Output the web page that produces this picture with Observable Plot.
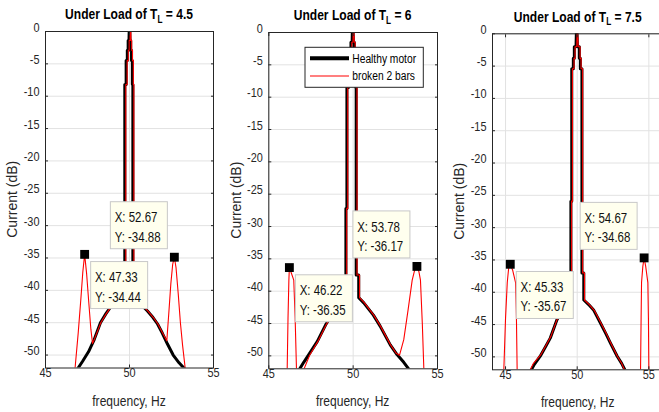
<!DOCTYPE html>
<html><head><meta charset="utf-8">
<script src="https://cdn.jsdelivr.net/npm/d3@7"></script>
<script src="https://cdn.jsdelivr.net/npm/@observablehq/plot@0.6"></script>
<style>
html,body{margin:0;padding:0;background:#fff;}
#fig{position:relative;width:659px;height:412px;overflow:hidden;background:#fff;}
#fig svg{position:absolute;top:0;}
</style></head><body><div id="fig"></div>
<script>
// ---------------- data ----------------
const loads = ["4.5", "6", "7.5"];
const xTicks = [45, 50, 55];
const yTicks = [0, -5, -10, -15, -20, -25, -30, -35, -40, -45, -50];
const legendLabels = ["Healthy motor", "broken 2 bars"];

// T_L = 4.5  [frequency Hz, current dB]
const healthy45 = [[46.84,-52.4],[47.2,-51.0],[47.56,-49.5],[47.9,-47.6],[48.27,-45.0],[48.6,-43.6],[48.87,-42.6],[49.2,-41.9],[49.5,-41.5],[49.72,-41.3],[49.72,-8.2],[49.8,-8.2],[49.8,-4.5],[49.87,-4.5],[49.87,-2.9],[49.92,-2.9],[49.92,-1.4],[49.97,-1.4],[49.98,0],[50.02,0],[50.03,-1.4],[50.07,-1.4],[50.07,-2.9],[50.12,-2.9],[50.12,-4.5],[50.17,-4.5],[50.17,-8.2],[50.2,-8.2],[50.2,-41.2],[50.5,-41.8],[50.8,-42.5],[51.07,-43.2],[51.4,-44.2],[51.67,-45.2],[51.95,-46.6],[52.26,-48.3],[52.6,-50.0],[52.95,-51.2],[53.38,-52.4]];
const broken45 = [[46.74,-52.6],[46.95,-46.5],[47.1,-41.5],[47.22,-37.2],[47.33,-34.44],[47.45,-37.5],[47.58,-42.0],[47.7,-46.0],[47.8,-48.2],[47.92,-47.5],[48.29,-45.0],[48.62,-43.6],[48.89,-42.6],[49.22,-41.9],[49.52,-41.5],[49.78,-41.3],[49.78,-8.2],[49.86,-8.2],[49.86,-4.5],[49.93,-4.5],[49.93,-2.9],[49.98,-2.9],[49.98,-1.4],[50.03,-1.4],[50.04,0],[50.08,0],[50.09,-1.4],[50.13,-1.4],[50.13,-2.9],[50.18,-2.9],[50.18,-4.5],[50.23,-4.5],[50.23,-8.2],[50.26,-8.2],[50.26,-41.2],[50.54,-41.8],[50.83,-42.5],[51.1,-43.2],[51.42,-44.2],[51.69,-45.2],[51.97,-46.6],[52.22,-47.8],[52.34,-43.5],[52.46,-39.0],[52.57,-36.0],[52.67,-34.88],[52.77,-36.5],[52.9,-40.5],[53.03,-45.0],[53.16,-48.5],[53.34,-52.6]];
const tipX45 = [47.33, 52.67];
const tipY45 = [-34.44, -34.88];

// T_L = 6
const healthy6 = [[46.74,-52.4],[47.07,-51.0],[47.37,-49.8],[47.87,-47.8],[48.37,-45.2],[48.8,-43.4],[49.15,-42.2],[49.4,-41.6],[49.57,-41.3],[49.57,-27.2],[49.63,-27.2],[49.63,-8.5],[49.72,-8.5],[49.72,-4.5],[49.8,-4.5],[49.8,-3.0],[49.87,-3.0],[49.87,-1.5],[49.94,-1.5],[49.95,0],[50.0,0],[50.02,-1.5],[50.07,-1.5],[50.07,-3.0],[50.11,-3.0],[50.11,-4.5],[50.15,-4.5],[50.15,-8.5],[50.18,-8.5],[50.18,-37.5],[50.33,-37.5],[50.33,-41.0],[50.63,-41.8],[51.2,-43.7],[51.6,-45.4],[52.2,-48.3],[52.6,-49.8],[53.0,-51.0],[53.4,-52.4]];
const broken6 = [[46.06,-54],[46.09,-52],[46.14,-44],[46.19,-38.3],[46.22,-36.35],[46.35,-37.3],[46.48,-38.3],[46.56,-44],[46.64,-52],[46.68,-54],[46.9,-56],[47.06,-52.2],[47.42,-49.9],[47.9,-47.8],[48.4,-45.2],[48.82,-43.4],[49.17,-42.2],[49.42,-41.6],[49.62,-41.3],[49.62,-27.2],[49.68,-27.2],[49.68,-8.5],[49.77,-8.5],[49.77,-4.5],[49.85,-4.5],[49.85,-3.0],[49.92,-3.0],[49.92,-1.5],[49.99,-1.5],[50.0,0],[50.05,0],[50.07,-1.5],[50.12,-1.5],[50.12,-3.0],[50.16,-3.0],[50.16,-4.5],[50.2,-4.5],[50.2,-8.5],[50.23,-8.5],[50.23,-37.5],[50.38,-37.5],[50.38,-41.0],[50.67,-41.8],[51.22,-43.7],[51.62,-45.4],[52.22,-48.3],[52.55,-49.6],[52.75,-49.9],[53.0,-47.5],[53.25,-43.0],[53.5,-38.3],[53.65,-36.7],[53.78,-36.17],[53.9,-37.0],[53.99,-38.3],[54.1,-45.0],[54.19,-52.0],[54.22,-54]];
const tipX6 = [46.22, 53.78];
const tipY6 = [-36.35, -36.17];

// T_L = 7.5
const healthy75 = [[46.7,-52.4],[47.0,-51.2],[47.42,-49.9],[47.8,-48.4],[48.12,-47.1],[48.58,-44.3],[48.95,-42.8],[49.25,-41.9],[49.5,-41.4],[49.56,-41.3],[49.56,-25.9],[49.62,-25.9],[49.62,-5.4],[49.73,-5.4],[49.73,-3.8],[49.8,-3.8],[49.8,-2.0],[49.92,-2.0],[49.94,0],[49.99,0],[50.02,-2.0],[50.15,-2.0],[50.15,-3.8],[50.22,-3.8],[50.22,-5.4],[50.33,-5.4],[50.33,-37.0],[50.46,-37.0],[50.46,-41.2],[50.8,-41.9],[51.16,-42.8],[51.63,-44.8],[52.0,-46.4],[52.33,-47.9],[52.79,-49.9],[53.1,-51.0],[53.42,-52.4]];
const broken75 = [[44.85,-54],[44.88,-52],[45.0,-44],[45.12,-38.5],[45.22,-36.2],[45.33,-35.67],[45.5,-36.6],[45.7,-38.5],[45.76,-44],[45.81,-52],[45.84,-54],[46.25,-57],[46.64,-52.4],[46.95,-51.0],[47.45,-49.7],[47.83,-48.2],[48.15,-46.9],[48.6,-44.2],[48.97,-42.8],[49.27,-41.9],[49.52,-41.4],[49.61,-41.3],[49.61,-25.9],[49.67,-25.9],[49.67,-5.4],[49.78,-5.4],[49.78,-3.8],[49.85,-3.8],[49.85,-2.0],[49.97,-2.0],[49.99,0],[50.04,0],[50.07,-2.0],[50.2,-2.0],[50.2,-3.8],[50.27,-3.8],[50.27,-5.4],[50.38,-5.4],[50.38,-37.0],[50.51,-37.0],[50.51,-41.2],[50.84,-41.9],[51.19,-42.8],[51.66,-44.8],[52.03,-46.4],[52.35,-47.9],[52.8,-49.9],[53.1,-51.0],[53.38,-52.4],[53.9,-57],[54.4,-54],[54.42,-52],[54.46,-44],[54.49,-38.5],[54.58,-36.0],[54.67,-34.68],[54.78,-36.0],[54.93,-38.5],[54.97,-44],[55.0,-52],[55.02,-54]];
const tipX75 = [45.33, 54.67];
const tipY75 = [-35.67, -34.68];

// ---------------- styling ----------------
function fontAvailable(name) {
  const ctx = document.createElement("canvas").getContext("2d");
  const s = "Healthy motor 0123456789 Wwmil";
  for (const base of ["monospace", "serif"]) {
    ctx.font = `40px ${base}`; const a = ctx.measureText(s).width;
    ctx.font = `40px "${name}", ${base}`; const b = ctx.measureText(s).width;
    if (Math.abs(a - b) > 0.5) return true;
  }
  return false;
}
const NARROW = fontAvailable("Liberation Sans Narrow");
const FONT = NARROW ? '"Liberation Sans Narrow", "Liberation Sans", Arial, sans-serif' : '"Liberation Sans", Arial, sans-serif';
const REG = '"Liberation Sans", Arial, sans-serif';
const SQ = NARROW ? 1 : 0.82;
const FS = {tick: 13.3, title: 14.7, sub: 10, label: 14.7, ylab: 14, tip: 14, legend: 12.5};
const AX = "#262626", GRID = "#e2e2e2";

function squeeze(svg) {
  if (SQ === 1) return;
  svg.querySelectorAll("text").forEach(t => {
    if (t.hasAttribute("data-keep")) return;
    let tr = t.getAttribute("transform") || "";
    const x = t.getAttribute("x"), y = t.getAttribute("y");
    if (x !== null || y !== null) {
      tr += ` translate(${+x || 0},${+y || 0})`;
      t.removeAttribute("x"); t.removeAttribute("y");
    }
    t.setAttribute("transform", tr + ` scale(${SQ},1)`);
  });
}

function titleMark(load) {
  return (index, scales, values, dims) => {
    const cx = dims.marginLeft + (dims.width - dims.marginLeft - dims.marginRight) / 2;
    const t = d3.create("svg:text")
      .attr("transform", `translate(${cx},${dims.marginTop - 11.7})`)
      .attr("text-anchor", "middle").attr("font-weight", "bold")
      .attr("font-size", FS.title).attr("fill", "#000");
    t.append("tspan").text("Under Load of T");
    t.append("tspan").attr("font-size", FS.sub).attr("dy", 3.8).text("L");
    t.append("tspan").attr("dy", -3.8).text(" = " + load);
    return t.node();
  };
}
function axisLabels() {
  return (index, scales, values, dims) => {
    const g = d3.create("svg:g").attr("fill", AX);
    const cx = dims.marginLeft + (dims.width - dims.marginLeft - dims.marginRight) / 2;
    const cy = dims.marginTop + (dims.height - dims.marginTop - dims.marginBottom) / 2;
    g.append("text").attr("transform", `translate(${cx},${dims.height - dims.marginBottom + 33})`)
      .attr("text-anchor", "middle").attr("dy", "0.35em").attr("font-size", FS.label).text("frequency, Hz");
    g.append("text").attr("data-keep", "1").attr("font-family", REG)
      .attr("transform", `translate(${dims.marginLeft - 32.5},${cy}) rotate(-90)`)
      .attr("text-anchor", "middle").attr("dy", "0.35em").attr("font-size", FS.ylab).text("Current (dB)");
    return g.node();
  };
}
function tipBoxes(tips) {
  return (index, scales, values, dims) => {
    const g = d3.create("svg:g").attr("text-anchor", "start");
    const W = 57, H = 47;
    tips.forEach(t => {
      const px = scales.x(t.x), py = scales.y(t.y);
      const bx = t.below ? px + 6.5 : px - 6.5 - W;
      const by = t.below ? py + 7.7 : py - 8 - H;
      g.append("rect").attr("x", bx).attr("y", by).attr("width", W).attr("height", H)
        .attr("fill", "#ffffee").attr("stroke", "#c8c8c8");
      g.append("text").attr("transform", `translate(${bx + 4.3},${by + 20.6})`).attr("text-anchor", "start")
        .attr("font-size", FS.tip).attr("fill", "#111").text(`X: ${t.x.toFixed(2)}`);
      g.append("text").attr("transform", `translate(${bx + 4.3},${by + 40})`).attr("text-anchor", "start")
        .attr("font-size", FS.tip).attr("fill", "#111").text(`Y: ${t.y.toFixed(2)}`);
    });
    return g.node();
  };
}
function legendMark(labels) {
  return (index, scales, values, dims) => {
    const right = dims.width - dims.marginRight;
    const w = 118.3, h = 40;
    const x0 = right - 13.7 - w, y0 = dims.marginTop + 15.3;
    const g = d3.create("svg:g").attr("text-anchor", "start");
    g.append("rect").attr("x", x0).attr("y", y0).attr("width", w).attr("height", h)
      .attr("fill", "#fff").attr("stroke", AX);
    const sw = [{c: "#000", w: 4}, {c: "#ff0000", w: 1.2}];
    labels.forEach((lab, i) => {
      const yy = y0 + 11 + i * 17.7;
      g.append("line").attr("x1", x0 + 5).attr("x2", x0 + 44).attr("y1", yy).attr("y2", yy)
        .attr("stroke", sw[i].c).attr("stroke-width", sw[i].w);
      g.append("text").attr("transform", `translate(${x0 + 47.3},${yy})`).attr("dy", "0.35em").attr("text-anchor", "start")
        .attr("font-size", FS.legend).attr("fill", "#000").text(lab);
    });
    return g.node();
  };
}

function makePanel(cfg) {
  const {left, width, mt, mb, ml, mr, xdom, healthy, broken, tipX, tipY, load, legend} = cfg;
  const tips = tipX.map((x, i) => ({x, y: tipY[i], below: i === 0}));
  const marks = [
    Plot.gridX(xTicks, {stroke: GRID, strokeOpacity: 1}),
    Plot.gridY(yTicks, {stroke: GRID, strokeOpacity: 1}),
    Plot.line(healthy, {x: d => d[0], y: d => d[1], stroke: "#000", strokeWidth: 3, clip: true}),
    Plot.line(broken, {x: d => d[0], y: d => d[1], stroke: "#ff0000", strokeWidth: 1.1, clip: true}),
    Plot.frame({stroke: AX}),
    Plot.axisY(yTicks, {anchor: "left", tickSize: 3, dx: 3, tickFormat: () => "", label: null, color: AX}),
    Plot.axisY(yTicks, {anchor: "right", tickSize: 3, dx: -3, tickFormat: () => "", label: null, color: AX}),
    Plot.axisX(xTicks, {anchor: "bottom", tickSize: 3, dy: -3, tickFormat: () => "", label: null, color: AX}),
    Plot.axisX(xTicks, {anchor: "top", tickSize: 3, dy: 3, tickFormat: () => "", label: null, color: AX}),
    Plot.axisY(yTicks, {anchor: "left", tickSize: 0, tickPadding: 6, tickFormat: d => String(d), label: null, color: AX, fontSize: FS.tick}),
    Plot.axisX(xTicks, {anchor: "bottom", tickSize: 0, tickPadding: 9, tickFormat: d => String(d), label: null, color: AX, fontSize: FS.tick}),
    axisLabels(),
    titleMark(load),
    Plot.dot(tips, {x: "x", y: "y", symbol: "square", r: 5, fill: "#000", stroke: "none"}),
    tipBoxes(tips)
  ];
  if (legend) marks.push(legendMark(legend));
  const svg = Plot.plot({
    width, height: 412, marginTop: mt, marginBottom: mb, marginLeft: ml, marginRight: mr,
    style: {fontFamily: FONT, fontSize: FS.tick + "px", color: AX, background: "none", overflow: "visible"},
    x: {domain: xdom}, y: {domain: [-52, 0]},
    marks
  });
  squeeze(svg);
  svg.style.left = left + "px";
  svg.style.position = "absolute";
  svg.style.maxWidth = "none";
  document.getElementById("fig").appendChild(svg);
}

makePanel({left: 0, width: 220, mt: 31, mb: 44.5, ml: 45, mr: 7, xdom: [45, 55],
  healthy: healthy45, broken: broken45, tipX: tipX45, tipY: tipY45, load: loads[0]});
makePanel({left: 220, width: 220, mt: 32, mb: 43.7, ml: 48.3, mr: 3, xdom: [45, 55],
  healthy: healthy6, broken: broken6, tipX: tipX6, tipY: tipY6, load: loads[1], legend: legendLabels});
makePanel({left: 440, width: 226, mt: 33.3, mb: 42.7, ml: 52, mr: 2.6, xdom: [44.09, 56.05],
  healthy: healthy75, broken: broken75, tipX: tipX75, tipY: tipY75, load: loads[2]});
</script>
</body></html>
